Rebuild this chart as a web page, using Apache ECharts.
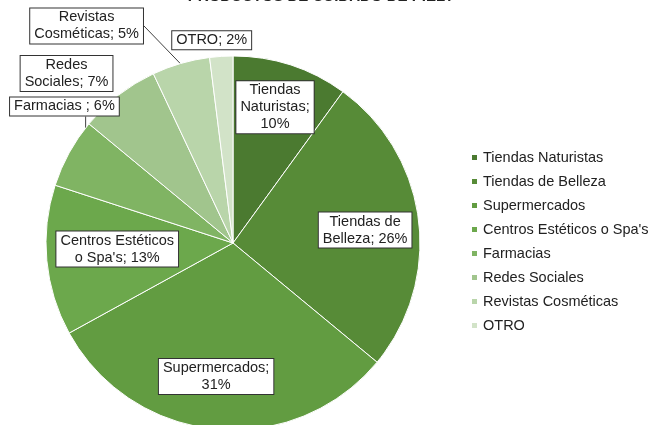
<!DOCTYPE html>
<html lang="es">
<head>
<meta charset="UTF-8">
<title>Productos de cuidado de piel</title>
<style>
  html, body { margin: 0; padding: 0; background: #fff; }
  #pie { width: 654px; height: 425px; }
</style>
</head>
<body>
<div id="pie"></div>
<script src="https://cdn.jsdelivr.net/npm/echarts@6/dist/echarts.min.js"></script>
<script>
// datos (porcentaje)
var categories = ['Tiendas Naturistas', 'Tiendas de Belleza', 'Supermercados', "Centros Estéticos o Spa's",
                  'Farmacias', 'Redes Sociales', 'Revistas Cosméticas', 'OTRO'];
var values = [10, 26, 31, 13, 6, 7, 5, 2];
// texto de las etiquetas tal como salen en el grafico
var labelFmt = ['Tiendas\nNaturistas;\n{v}%', 'Tiendas de\nBelleza; {v}%', 'Supermercados;\n{v}%',
                "Centros Estéticos\no Spa's; {v}%", 'Farmacias ; {v}%', 'Redes\nSociales; {v}%',
                'Revistas\nCosméticas; {v}%', 'OTRO; {v}%'];

var colors = ['#4b7a30', '#578b37', '#629c41', '#6ca84c', '#80b463', '#a1c58d', '#b9d5aa', '#d2e3c8'];
// [radio relativo, giro en grados] de cada etiqueta
var labelPlace = [[0.76, -0.8], [0.71, 1.6], [0.72, 1.8], [0.62, 2.4],
                  [1.16, 10.2], [1.27, -6.7], [1.40, -17.8], [1.09, -2.4]];
// giro del punto donde la linea toca el sector (null = sin linea)
var lineShift = [null, null, null, null, 8.8, null, 0, null];

var cx = 233, cy = 243, R = 187;
var font = '"Liberation Sans", Arial, sans-serif';

var total = 0, cum = [];
for (var i = 0; i < values.length; i++) { cum.push(total); total += values[i]; }

var pieData = categories.map(function (c, i) {
    return { name: c, value: values[i], labelLine: { show: lineShift[i] !== null } };
});

function polar(deg, r) {
    var a = deg * Math.PI / 180;
    return [cx + r * Math.sin(a), cy - r * Math.cos(a)];
}

var chart = echarts.init(document.getElementById('pie'));
chart.setOption({
    backgroundColor: '#fff',
    color: colors,
    animation: false,
    title: {
        text: 'PRODUCTOS DE CUIDADO DE PIEL?',
        left: 316,
        textAlign: 'center',
        top: -16,
        textStyle: { fontFamily: font, fontSize: 15, fontWeight: 'bold', color: '#222' }
    },
    legend: {
        orient: 'vertical',
        left: 465,
        top: 145,
        itemWidth: 7,
        itemHeight: 7,
        itemGap: 9,
        icon: 'rect',
        textStyle: { fontFamily: font, fontSize: 14.5, lineHeight: 15, color: '#222' },
        data: categories
    },
    series: [{
        name: 'Compra',
        type: 'pie',
        center: [cx, cy],
        radius: R,
        startAngle: 90,
        clockwise: true,
        avoidLabelOverlap: false,
        itemStyle: { borderColor: '#fff', borderWidth: 1 },
        label: {
            show: true,
            position: 'outside',
            formatter: function (p) { return labelFmt[p.dataIndex].replace('{v}', p.value); },
            fontFamily: font,
            fontSize: 14.5,
            lineHeight: 17,
            color: '#222',
            align: 'center',
            backgroundColor: '#fff',
            borderColor: '#333',
            borderWidth: 1,
            padding: [1, 4, 0, 4]
        },
        labelLine: { length: 10, length2: 0, lineStyle: { color: '#404040', width: 1 } },
        labelLayout: function (p) {
            var i = p.dataIndex;
            var mid = (cum[i] + values[i] / 2) / total * 360;
            var c = polar(mid + labelPlace[i][1], R * labelPlace[i][0]);
            var out = { x: c[0], y: c[1], align: 'center', verticalAlign: 'middle' };
            if (lineShift[i] !== null) {
                var w = p.labelRect.width, h = p.labelRect.height;
                var arc = polar(mid + lineShift[i], R - 1);
                var left = c[0] - w / 2, right = c[0] + w / 2;
                var end = (arc[0] > left && arc[0] < right) ? [arc[0], c[1] + h / 2] : [right, c[1]];
                out.labelLinePoints = [arc, end, end];
            }
            return out;
        },
        emphasis: { disabled: true },
        data: pieData
    }]
});
</script>
</body>
</html>
